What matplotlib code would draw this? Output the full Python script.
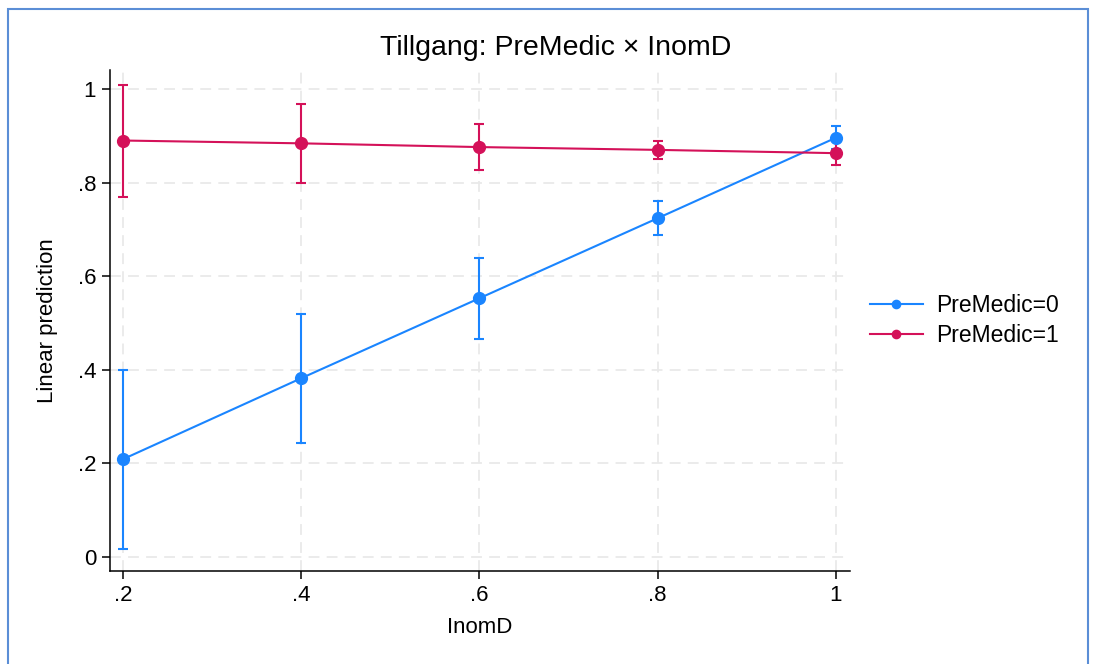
import matplotlib
matplotlib.use("Agg")
import matplotlib.pyplot as plt
from matplotlib.patches import Rectangle
from matplotlib.ticker import FixedLocator

plt.rcParams['font.family'] = ['Liberation Sans', 'DejaVu Sans']

inomd = [0.2, 0.4, 0.6, 0.8, 1.0]

# PreMedic=0
pred0 = [0.209, 0.382, 0.553, 0.724, 0.896]
lo0 = [0.017, 0.243, 0.466, 0.688, 0.872]
hi0 = [0.400, 0.519, 0.639, 0.761, 0.921]

# PreMedic=1
pred1 = [0.890, 0.884, 0.876, 0.870, 0.863]
lo1 = [0.770, 0.799, 0.827, 0.851, 0.838]
hi1 = [1.008, 0.968, 0.925, 0.888, 0.889]

ticks = [0, 0.2, 0.4, 0.6, 0.8, 1]
tick_labels = ["0", ".2", ".4", ".6", ".8", "1"]

blue = "#1a85ff"
red = "#d41159"

fig = plt.figure(figsize=(10.94, 6.64), dpi=100)
ax = fig.add_axes([0.1005, 0.140, 0.6764, 0.7545])

for pred, lo, hi, col, lab in [(pred0, lo0, hi0, blue, "PreMedic=0"),
                               (pred1, lo1, hi1, red, "PreMedic=1")]:
    yerr = [[p - l for p, l in zip(pred, lo)], [h - p for p, h in zip(pred, hi)]]
    ax.errorbar(inomd, pred, yerr=yerr, fmt="none", ecolor=col, elinewidth=1.5,
                capsize=3.8, capthick=1.5, zorder=3)
    ax.plot(inomd, pred, color=col, lw=1.5, marker="o", ms=8.5, label=lab, zorder=4)

ax.set_xlim(0.1854, 1.0157)
ax.set_ylim(-0.03, 1.0406)
ax.xaxis.set_major_locator(FixedLocator([0.2, 0.4, 0.6, 0.8, 1.0]))
ax.set_xticklabels([".2", ".4", ".6", ".8", "1"])
ax.yaxis.set_major_locator(FixedLocator(ticks))
ax.set_yticklabels(tick_labels)
ax.tick_params(labelsize=16, length=6, width=1.1, direction="out", pad=4)
ax.grid(True, color="#e9e9e9", lw=1.3, ls=(0, (6, 4)), zorder=0)

for s in ["top", "right"]:
    ax.spines[s].set_visible(False)
for s in ["left", "bottom"]:
    ax.spines[s].set_linewidth(1.1)

ax.set_xlabel("InomD", fontsize=16, labelpad=8)
ax.set_ylabel("Linear prediction", fontsize=16, labelpad=14)

fig.text(0.508, 0.927, "Tillgang: PreMedic × InomD", fontsize=20.5, ha="center", va="center")

leg = ax.legend(loc="center left", bbox_to_anchor=(0.99, 0.5), frameon=False,
                fontsize=16.5, handlelength=2.3, markerscale=0.7, labelspacing=0.3,
                handletextpad=0.6, borderaxespad=0.8)

fig.add_artist(Rectangle((8 / 1094, -0.1), 1080 / 1094, 1.1 - 9 / 664,
                         transform=fig.transFigure, fill=False,
                         edgecolor="#5b8ed6", lw=1.5))

fig.savefig("out.png", dpi=100)
